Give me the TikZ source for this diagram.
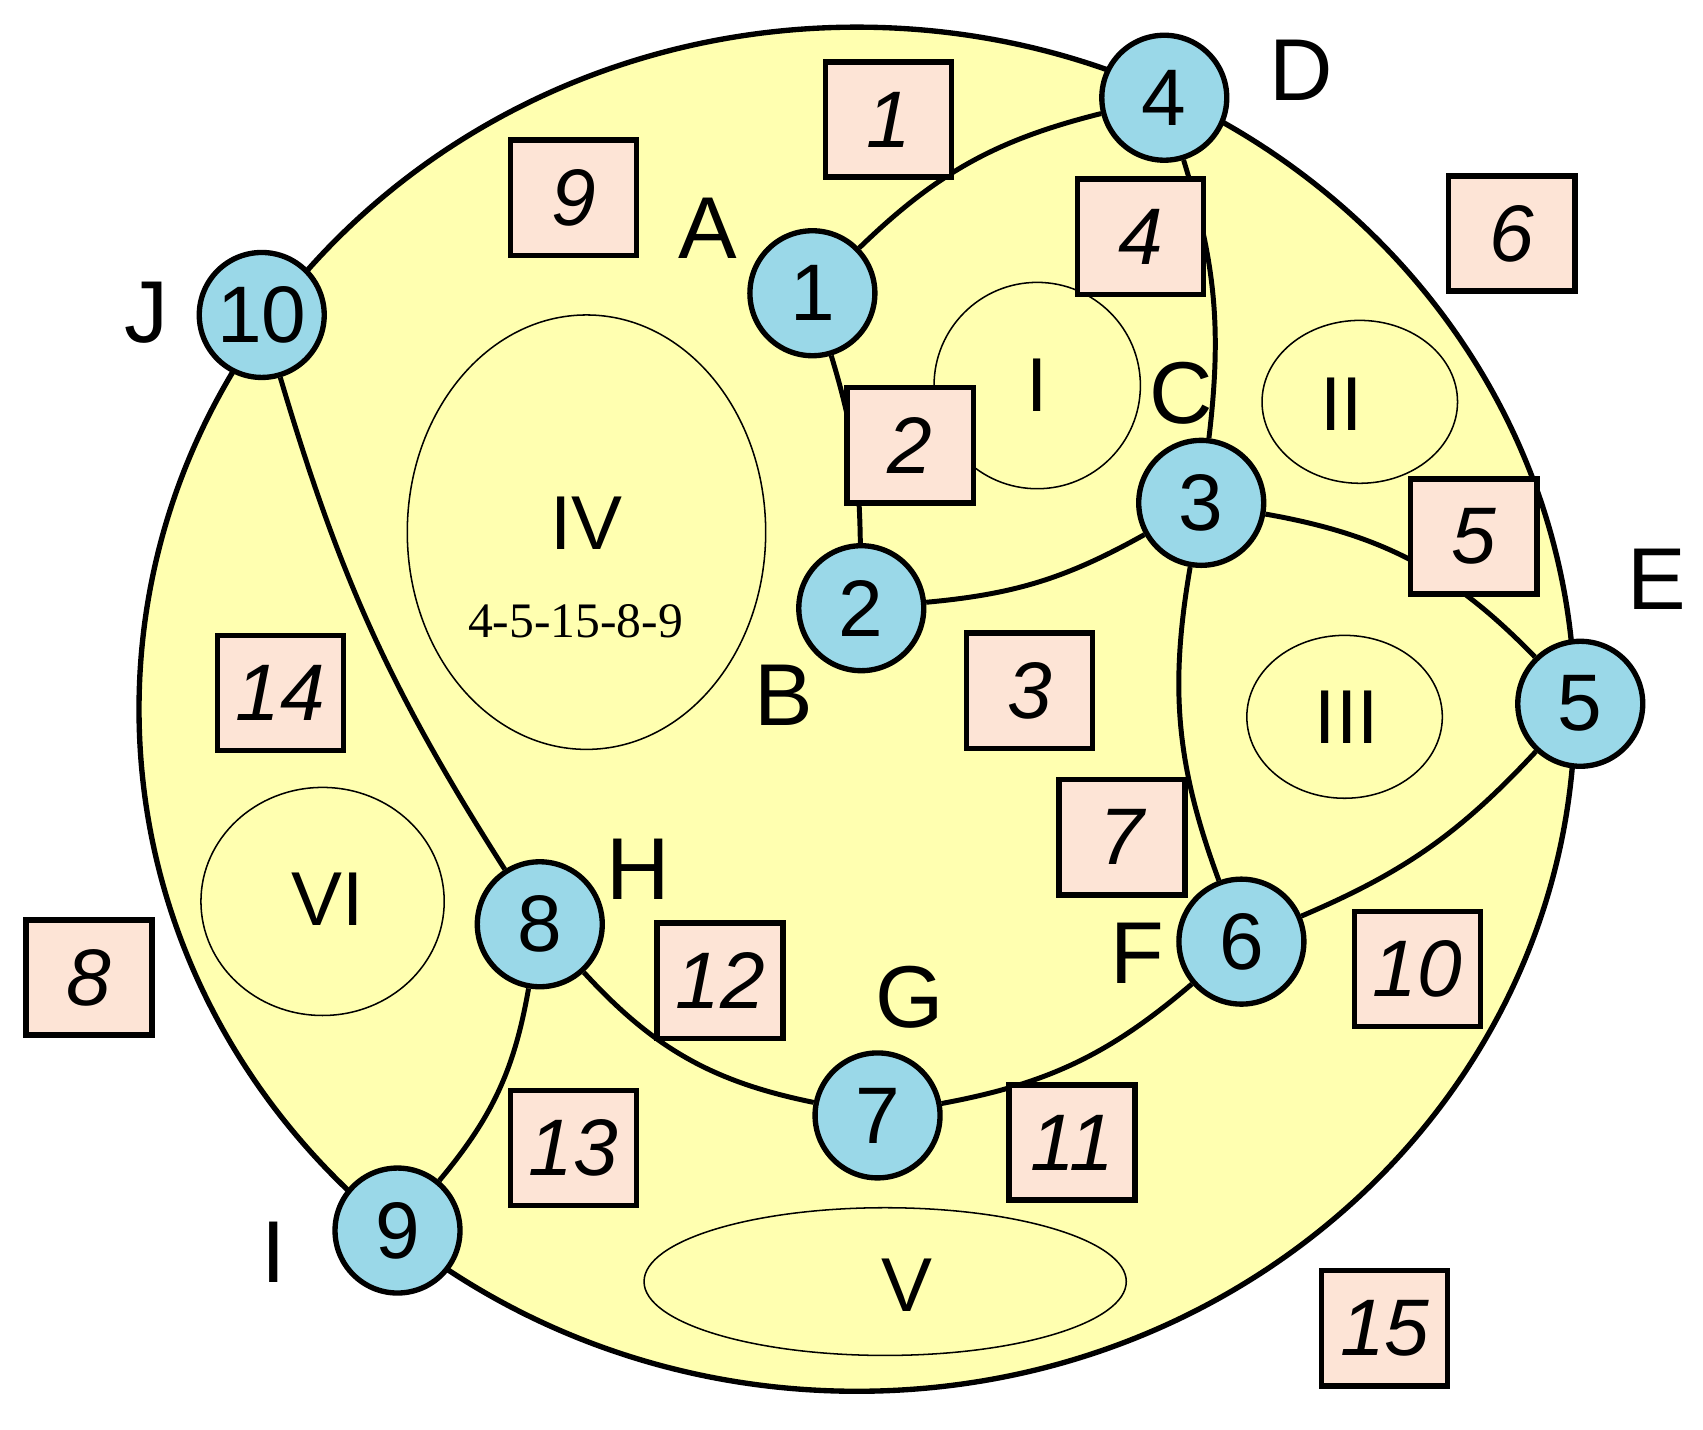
\documentclass[tikz,border=0pt]{standalone}
\usepackage{fontspec}
\setmainfont{Liberation Sans}
\newfontfamily\serifx{Liberation Serif}
\definecolor{yel}{HTML}{FFFFB0}
\definecolor{blu}{HTML}{9AD8E8}
\definecolor{pch}{HTML}{FDE4D6}
\begin{document}
\begin{tikzpicture}[x=0.01cm,y=-0.01cm,
  vtx/.style={circle,draw,line width=1.4pt,fill=blu,minimum size=1.15cm,inner sep=0pt,font=\fontsize{21}{21}\selectfont},
  bx/.style={draw,line width=1.4pt,fill=pch,minimum width=1.16cm,minimum height=1.06cm,inner sep=0pt,font=\fontsize{21}{21}\selectfont\itshape},
  lbl/.style={font=\fontsize{23}{23}\selectfont},
  reg/.style={draw,line width=0.4pt},
  rl/.style={font=\fontsize{20}{20}\selectfont},
  ed/.style={line width=1.3pt}]
\useasboundingbox (0,0) rectangle (1568,1316);
\draw[line width=1.4pt,fill=yel] (789,653) ellipse [x radius=661, y radius=628];
\draw[reg] (955,355) ellipse [x radius=95, y radius=95];
\draw[reg] (1252,370) ellipse [x radius=90, y radius=75];
\draw[reg] (1238,660) ellipse [x radius=90, y radius=75];
\draw[reg] (540,490) ellipse [x radius=165, y radius=200];
\draw[reg] (815,1180) ellipse [x radius=222, y radius=68];
\draw[reg] (297,830) ellipse [x radius=112, y radius=105];
\node[rl] (rI) at (955,355) {I};
\node[rl] (rII) at (1235,372) {II};
\node[rl] (rIII) at (1240,660) {III};
\node[rl] (rIV) at (540,482) {IV};
\node[font=\serifx\fontsize{13}{13}\selectfont] (rIVs) at (530,572) {4-5-15-8-9};
\node[rl] (rV) at (835,1183) {V};
\node[rl] (rVI) at (302,828) {VI};
\node[vtx] (n1) at (748,270) {1};
\node[vtx] (n2) at (793,560) {2};
\node[vtx] (n3) at (1106,463) {3};
\node[vtx] (n4) at (1072,90) {4};
\node[vtx] (n5) at (1455,648) {5};
\node[vtx] (n6) at (1143,867) {6};
\node[vtx] (n7) at (808,1027) {7};
\node[vtx] (n8) at (497,851) {8};
\node[vtx] (n9) at (366,1133) {9};
\node[vtx] (n10) at (241,290) {10};
\draw[ed] (n1) to[bend left=15] (n4);
\draw[ed] (n1) to[bend left=8] (n2);
\draw[ed] (n2) to[bend right=12] (n3);
\draw[ed] (n4) to[bend left=12] (n3);
\draw[ed] (n3) to[bend left=18] (n5);
\draw[ed] (n3) to[bend right=15] (n6);
\draw[ed] (n5) to[bend left=12] (n6);
\draw[ed] (n6) to[bend left=15] (n7);
\draw[ed] (n7) to[bend left=18] (n8);
\draw[ed] (n8) to[bend left=15] (n9);
\draw[ed] (n8) to[bend left=8] (n10);
\node[bx] (b1) at (818,110) {1};
\node[bx] (b9) at (528,182) {9};
\node[bx] (b4) at (1050,218) {4};
\node[bx] (b6) at (1392,215) {6};
\node[bx] (b2) at (838,410) {2};
\node[bx] (b5) at (1357,494) {5};
\node[bx] (b3) at (948,636) {3};
\node[bx] (b7) at (1033,771) {7};
\node[bx] (b14) at (258,638) {14};
\node[bx] (b8) at (82,900) {8};
\node[bx] (b12) at (663,903) {12};
\node[bx] (b10) at (1305,892) {10};
\node[bx] (b11) at (987,1052) {11};
\node[bx] (b13) at (528,1057) {13};
\node[bx] (b15) at (1275,1223) {15};
\node[lbl] (lA) at (652,210) {A};
\node[lbl] (lB) at (722,640) {B};
\node[lbl] (lC) at (1088,362) {C};
\node[lbl] (lD) at (1198,65) {D};
\node[lbl] (lE) at (1525,533) {E};
\node[lbl] (lF) at (1047,878) {F};
\node[lbl] (lG) at (838,918) {G};
\node[lbl] (lH) at (588,800) {H};
\node[lbl] (lI) at (252,1153) {I};
\node[lbl] (lJ) at (135,288) {J};
\end{tikzpicture}
\end{document}
